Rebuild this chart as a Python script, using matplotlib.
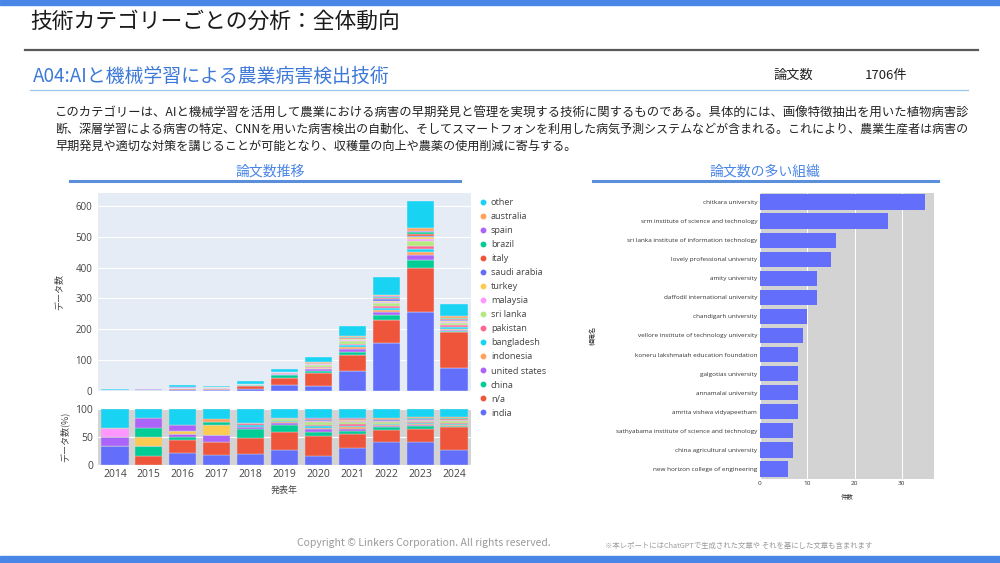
import numpy as np
import matplotlib.pyplot as plt
from matplotlib.lines import Line2D

plt.rcParams['font.family'] = ['Noto Sans CJK JP', 'DejaVu Sans']

# ---- data ----
years = [2014, 2015, 2016, 2017, 2018, 2019, 2020, 2021, 2022, 2023, 2024]

india = [2, 0, 4, 3, 6, 19, 17, 65, 155, 255, 75]
na = [0, 1, 4, 4, 9, 24, 40, 53, 75, 145, 115]
china = [0, 1, 1, 0, 5, 9, 7, 10, 18, 25, 5]
united_states = [1, 0, 1, 2, 1, 2, 6, 8, 7, 15, 4]
indonesia = [0, 0, 0, 0, 0, 1, 3, 6, 8, 12, 3]
bangladesh = [0, 0, 0, 0, 1, 1, 3, 6, 6, 10, 5]
pakistan = [0, 0, 0, 0, 1, 1, 2, 6, 5, 8, 6]
sri_lanka = [0, 0, 0, 0, 0, 2, 6, 7, 10, 15, 7]
malaysia = [1, 0, 0, 0, 0, 1, 2, 4, 6, 8, 5]
turkey = [0, 1, 1, 3, 0, 0, 1, 2, 3, 5, 2]
saudi_arabia = [0, 0, 0, 0, 0, 1, 2, 3, 4, 5, 2]
italy = [0, 0, 0, 0, 0, 0, 1, 2, 4, 6, 4]
brazil = [0, 1, 0, 1, 0, 0, 1, 2, 3, 7, 3]
spain = [0, 1, 2, 0, 0, 0, 1, 2, 3, 4, 2]
australia = [0, 0, 0, 1, 0, 0, 1, 2, 3, 8, 5]
other = [2, 1, 5, 3, 8, 11, 17, 32, 60, 87, 40]

countries = ['india', 'n/a', 'china', 'united states', 'indonesia', 'bangladesh',
             'pakistan', 'sri lanka', 'malaysia', 'turkey', 'saudi arabia', 'italy',
             'brazil', 'spain', 'australia', 'other']
series = [india, na, china, united_states, indonesia, bangladesh, pakistan, sri_lanka,
          malaysia, turkey, saudi_arabia, italy, brazil, spain, australia, other]

orgs = ['chitkara university', 'srm institute of science and technology',
        'sri lanka institute of information technology', 'lovely professional university',
        'amity university', 'daffodil international university', 'chandigarh university',
        'vellore institute of technology university', 'koneru lakshmaiah education foundation',
        'galgotias university', 'annamalai university', 'amrita vishwa vidyapeetham',
        'sathyabama institute of science and technology', 'china agricultural university',
        'new horizon college of engineering']
org_counts = [35, 27, 16, 15, 12, 12, 10, 9, 8, 8, 8, 8, 7, 7, 6]

palette = ['#636EFA', '#EF553B', '#00CC96', '#AB63FA', '#FFA15A',
           '#19D3F3', '#FF6692', '#B6E880', '#FF97FF', '#FECB52']
colors = [palette[i % 10] for i in range(len(countries))]

W, H = 1000, 563
fig = plt.figure(figsize=(10, 5.63), dpi=100)


def fx(x):
    return x / W


def fy(y):
    return 1 - y / H


def box(x0, y0, x1, y1):
    return [fx(x0), fy(y1), fx(x1) - fx(x0), (y1 - y0) / H]


# ---- slide decoration ----
fig.patches.append(plt.Rectangle((0, fy(5)), 1, 5 / H, transform=fig.transFigure,
                                 color='#4A86E8', zorder=0))
fig.patches.append(plt.Rectangle((0, 0), 1, 7 / H, transform=fig.transFigure,
                                 color='#4A86E8', zorder=0))
fig.add_artist(Line2D([fx(25), fx(978)], [fy(50), fy(50)], color='#595959', lw=1.6))
fig.add_artist(Line2D([fx(30), fx(968)], [fy(90), fy(90)], color='#9FC5E8', lw=0.9))
fig.add_artist(Line2D([fx(70), fx(460)], [fy(181), fy(181)], color='#5B8FD9', lw=2.2))
fig.add_artist(Line2D([fx(593), fx(938)], [fy(181), fy(181)], color='#5B8FD9', lw=2.2))

fig.text(fx(30), fy(22), '技術カテゴリーごとの分析：全体動向', fontsize=15.7,
         va='center', ha='left', color='#1a1a1a')
fig.text(fx(33), fy(76), 'A04:AIと機械学習による農業病害検出技術', fontsize=13.6,
         va='center', ha='left', color='#3C78D8')
fig.text(fx(773), fy(75), '論文数', fontsize=9.5, va='center', ha='left', color='#222222')
fig.text(fx(865), fy(75), '1706件', fontsize=9.5, va='center', ha='left', color='#222222')

para = ['このカテゴリーは、AIと機械学習を活用して農業における病害の早期発見と管理を実現する技術に関するものである。具体的には、画像特徴抽出を用いた植物病害診',
        '断、深層学習による病害の特定、CNNを用いた病害検出の自動化、そしてスマートフォンを利用した病気予測システムなどが含まれる。これにより、農業生産者は病害の',
        '早期発見や適切な対策を講じることが可能となり、収穫量の向上や農薬の使用削減に寄与する。']
para_sizes = [8.88, 8.62, 8.75]
for i, (line, fs) in enumerate(zip(para, para_sizes)):
    fig.text(fx(55), fy(112 + 17 * i), line, fontsize=fs, va='center', ha='left',
             color='#222222')

fig.text(fx(270), fy(172), '論文数推移', fontsize=10, va='center', ha='center', color='#4A86E8')
fig.text(fx(765), fy(172), '論文数の多い組織', fontsize=10, va='center', ha='center', color='#4A86E8')

fig.text(fx(424), fy(543), 'Copyright © Linkers Corporation. All rights reserved.',
         fontsize=7.5, va='center', ha='center', color='#9a9a9a')
fig.text(fx(605), fy(546), '※本レポートにはChatGPTで生成された文章や それを基にした文章も含まれます',
         fontsize=5.3, va='center', ha='left', color='#9a9a9a')

tick_font = dict(family=['Open Sans', 'DejaVu Sans'])

# ---- stacked counts ----
ax1 = fig.add_axes(box(98, 193, 471, 391))
ax1.set_facecolor('#E5ECF6')
bottom = np.zeros(len(years))
for name, vals, c in zip(countries, series, colors):
    ax1.bar(years, vals, bottom=bottom, width=0.8, color=c, edgecolor='#E5ECF6',
            linewidth=0.3, label=name, zorder=2)
    bottom += np.array(vals)
ax1.set_xlim(2013.5, 2024.5)
ax1.set_ylim(0, 642)
ax1.set_yticks([0, 100, 200, 300, 400, 500, 600])
ax1.set_xticks([])
ax1.grid(axis='y', color='white', lw=0.8, zorder=0)
ax1.set_axisbelow(True)
for s in ax1.spines.values():
    s.set_visible(False)
ax1.tick_params(axis='y', length=0, labelsize=7, labelcolor='#444444', pad=4)
for t in ax1.get_yticklabels():
    t.set_family(tick_font['family'])
ax1.set_ylabel('データ数', fontsize=6.5, color='#444444', labelpad=9)

handles = [Line2D([], [], marker='o', ls='', color=c, markersize=3.2)
           for c in colors]
leg = fig.legend(handles[::-1], countries[::-1], loc='upper left',
                 bbox_to_anchor=(fx(478), fy(198)), frameon=False, fontsize=6.6,
                 handletextpad=0.4, labelspacing=0.55, handlelength=1.0,
                 borderaxespad=0, borderpad=0)
for t in leg.get_texts():
    t.set_color('#444444')
    t.set_family(tick_font['family'])

# ---- stacked percent ----
ax2 = fig.add_axes(box(98, 409, 471, 465))
ax2.set_facecolor('#D3D3D3')
totals = np.sum(np.array(series), axis=0)
bottom = np.zeros(len(years))
for vals, c in zip(series, colors):
    pct = np.array(vals) / totals * 100
    ax2.bar(years, pct, bottom=bottom, width=0.8, color=c, edgecolor='#D3D3D3',
            linewidth=0.3, zorder=2)
    bottom += pct
ax2.set_xlim(2013.5, 2024.5)
ax2.set_ylim(0, 100)
ax2.set_yticks([0, 50, 100])
ax2.set_xticks(years)
ax2.grid(axis='y', color='white', lw=0.8, zorder=0)
ax2.set_axisbelow(True)
for s in ax2.spines.values():
    s.set_visible(False)
ax2.tick_params(length=0, labelsize=7.5, labelcolor='#444444')
ax2.tick_params(axis='x', pad=3)
for t in ax2.get_yticklabels() + ax2.get_xticklabels():
    t.set_family(tick_font['family'])
ax2.set_ylabel('データ数(%)', fontsize=6.5, color='#444444', labelpad=4)
ax2.set_xlabel('発表年', fontsize=6.5, color='#444444', labelpad=4)

# ---- organisations ----
ax3 = fig.add_axes(box(760, 192.5, 934, 478.5))
ax3.set_facecolor('#D3D3D3')
ypos = np.arange(len(orgs))
ax3.barh(ypos, org_counts, height=0.8, color='#636EFA', zorder=2)
ax3.set_yticks(ypos)
ax3.set_yticklabels(orgs)
ax3.set_ylim(len(orgs) - 0.5, -0.5)
ax3.set_xlim(0, 36.8)
ax3.set_xticks([0, 10, 20, 30])
ax3.grid(axis='x', color='white', lw=0.7, zorder=0)
ax3.set_axisbelow(True)
for s in ax3.spines.values():
    s.set_visible(False)
ax3.tick_params(length=0, labelsize=4.6, labelcolor='#333333', pad=2)
for t in ax3.get_yticklabels() + ax3.get_xticklabels():
    t.set_family(tick_font['family'])
ax3.set_xlabel('件数', fontsize=4.6, color='#333333', labelpad=5)
ax3.set_ylabel('組織名', fontsize=4.6, color='#333333', labelpad=0)
ax3.yaxis.set_label_coords((fx(597) - fx(760)) / 0.174, 0.5)

fig.savefig('out.png', dpi=100)
